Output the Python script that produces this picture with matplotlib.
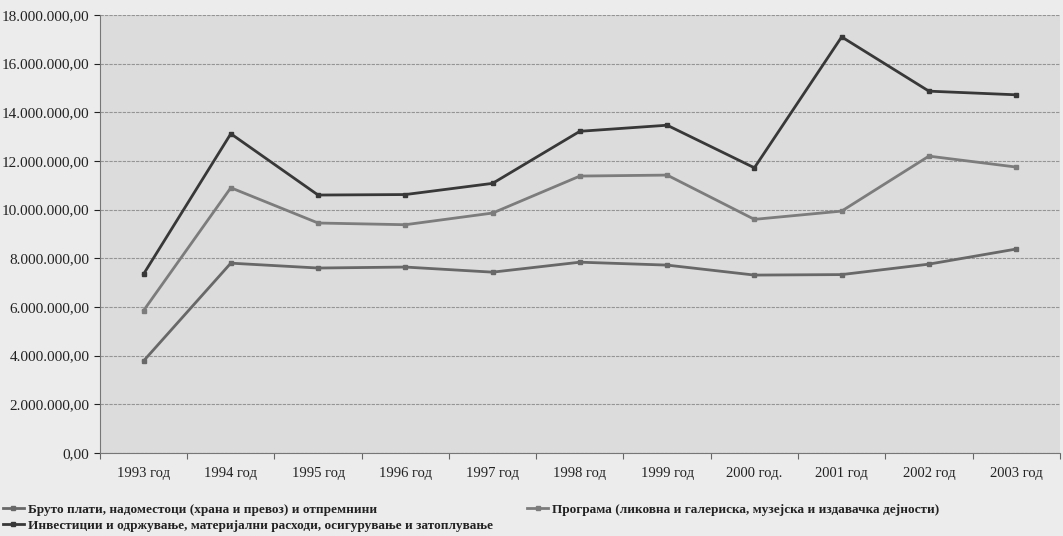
import matplotlib
matplotlib.use('Agg')
import matplotlib.pyplot as plt
from matplotlib.ticker import FuncFormatter, FixedLocator

years = ['1993 год', '1994 год', '1995 год', '1996 год', '1997 год', '1998 год',
         '1999 год', '2000 год.', '2001 год', '2002 год', '2003 год']

bruto = [3.78e6, 7.80e6, 7.60e6, 7.64e6, 7.43e6, 7.84e6,
         7.72e6, 7.31e6, 7.33e6, 7.76e6, 8.38e6]
programa = [5.85e6, 10.90e6, 9.45e6, 9.38e6, 9.86e6, 11.38e6,
            11.42e6, 9.60e6, 9.94e6, 12.20e6, 11.75e6]
investicii = [7.35e6, 13.12e6, 10.60e6, 10.62e6, 11.08e6, 13.22e6,
              13.47e6, 11.72e6, 17.10e6, 14.87e6, 14.72e6]

labels = ['Бруто плати, надоместоци (храна и превоз) и отпремнини',
          'Програма (ликовна и галериска, музејска и издавачка дејности)',
          'Инвестиции и одржување, материјални расходи, осигурување и затоплување']

plt.rcParams['font.family'] = ['Liberation Serif', 'DejaVu Serif']

fig = plt.figure(figsize=(10.63, 5.36), dpi=100, facecolor='#ececec')
ax = fig.add_axes([0.094, 0.155, 0.903, 0.817])
ax.set_facecolor('#dcdcdc')

x = list(range(len(years)))
l1, = ax.plot(x, bruto, color='#686868', lw=2, marker='s', ms=3.5)
l2, = ax.plot(x, programa, color='#7c7c7c', lw=2, marker='s', ms=3.5)
l3, = ax.plot(x, investicii, color='#383838', lw=2, marker='s', ms=3.5)

ax.set_ylim(0, 18e6)
ax.set_yticks([i * 2e6 for i in range(10)])
ax.yaxis.set_major_formatter(FuncFormatter(
    lambda v, p: '{:,.2f}'.format(v).replace(',', ' ').replace('.', ',').replace(' ', '.')))
ax.grid(axis='y', color='#959595', lw=0.8, ls=(0, (3, 1)))
ax.set_axisbelow(True)

ax.set_xlim(-0.5, len(years) - 0.5)
ax.xaxis.set_major_locator(FixedLocator([i - 0.5 for i in range(len(years) + 1)]))
ax.xaxis.set_minor_locator(FixedLocator(x))
ax.set_xticklabels([])
ax.set_xticklabels(years, minor=True)
ax.tick_params(axis='x', which='minor', length=0, pad=10, labelsize=10.5, colors='#222222')
ax.tick_params(axis='x', which='major', length=4, color='#666666')
ax.tick_params(axis='y', length=4, labelsize=11, colors='#222222')

for side in ['top', 'right']:
    ax.spines[side].set_visible(False)
ax.spines['left'].set_color('#777777')
ax.spines['bottom'].set_color('#777777')

fig.legend([l1, l3, l2], [labels[0], labels[2], labels[1]], ncol=2,
           loc='upper left', bbox_to_anchor=(0.0, 0.065), frameon=False,
           prop={'weight': 'bold', 'size': 9.5}, handlelength=1.6,
           handletextpad=0.3, labelspacing=0.25, columnspacing=2.6,
           borderaxespad=0, borderpad=0.2, labelcolor='#222222')

fig.savefig('out.png', dpi=100, facecolor=fig.get_facecolor())
